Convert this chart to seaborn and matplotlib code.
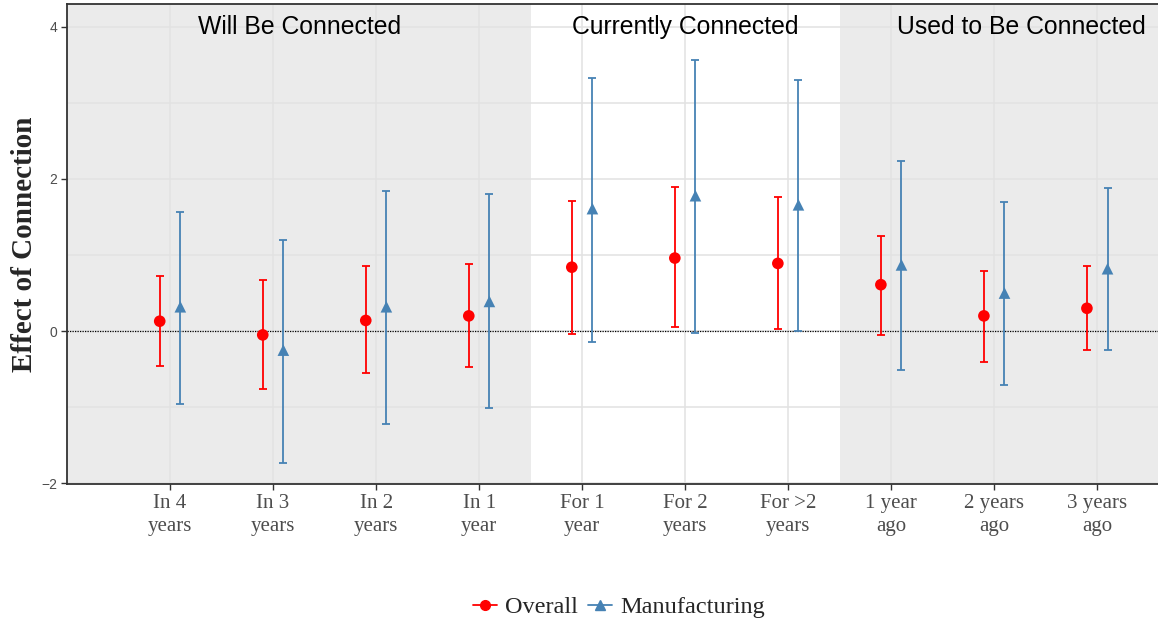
import numpy as np
import pandas as pd
import matplotlib.pyplot as plt
import seaborn as sns
from matplotlib.lines import Line2D

categories = ["In 4\nyears", "In 3\nyears", "In 2\nyears", "In 1\nyear",
              "For 1\nyear", "For 2\nyears", "For >2\nyears",
              "1 year\nago", "2 years\nago", "3 years\nago"]

overall_est = [0.13, -0.05, 0.14, 0.20, 0.84, 0.96, 0.89, 0.61, 0.20, 0.30]
overall_lo = [-0.46, -0.76, -0.55, -0.47, -0.04, 0.05, 0.03, -0.05, -0.41, -0.25]
overall_hi = [0.72, 0.67, 0.86, 0.88, 1.71, 1.89, 1.76, 1.25, 0.79, 0.86]

manuf_est = [0.32, -0.25, 0.32, 0.39, 1.61, 1.78, 1.66, 0.87, 0.50, 0.82]
manuf_lo = [-0.96, -1.74, -1.22, -1.01, -0.14, -0.03, 0.00, -0.51, -0.71, -0.25]
manuf_hi = [1.57, 1.20, 1.84, 1.80, 3.33, 3.57, 3.30, 2.24, 1.70, 1.88]

periods = ["Will Be Connected", "Currently Connected", "Used to Be Connected"]

red = "#FF0000"
blue = "#4682B4"

sns.set_theme(style="white")
plt.rcParams['font.family'] = ['Liberation Serif', 'DejaVu Serif']

pos = np.arange(1, len(categories) + 1)
df = pd.concat([
    pd.DataFrame({"x": pos - 0.1, "est": overall_est, "lo": overall_lo,
                  "hi": overall_hi, "group": "Overall"}),
    pd.DataFrame({"x": pos + 0.1, "est": manuf_est, "lo": manuf_lo,
                  "hi": manuf_hi, "group": "Manufacturing"}),
])

fig = plt.figure(figsize=(11.58, 6.23), dpi=100)
ax = fig.add_axes([67 / 1158, 1 - 484 / 623, 1 - 67 / 1158, 480 / 623])

# shaded periods
ax.axvspan(0, 4.5, color="#EBEBEB", zorder=0, lw=0)
ax.axvspan(7.5, 11, color="#EBEBEB", zorder=0, lw=0)

ax.set_xlim(0, 10.59)
ax.set_ylim(-2.01, 4.3)
ax.set_xticks(pos)
ax.set_xticklabels(categories, fontsize=15, color="#4d4d4d", linespacing=1.3)
ax.set_yticks([-2, 0, 2, 4])
ax.set_yticklabels(["\u22122", "0", "2", "4"], fontsize=10, color="#4d4d4d",
                   family=["Liberation Sans"])
ax.set_yticks([-1, 1, 3], minor=True)
ax.grid(True, which="both", color="#E2E2E2", lw=1.1, zorder=0.5)
ax.set_axisbelow(True)
ax.tick_params(axis="both", length=4, width=1, color="#333333", direction="out",
               bottom=True, left=True, pad=3)
ax.tick_params(axis="y", which="minor", length=0)

ax.axhline(0, color="black", ls=(0, (1, 1)), lw=0.9, zorder=1)

for grp, color, marker in [("Overall", red, "o"), ("Manufacturing", blue, "^")]:
    d = df[df.group == grp]
    ax.errorbar(d.x, d.est, yerr=[d.est - d.lo, d.hi - d.est], fmt="none",
                ecolor=color, elinewidth=1.3, capsize=3, capthick=1.3, zorder=2)

sns.scatterplot(data=df, x="x", y="est", hue="group", style="group",
                palette={"Overall": red, "Manufacturing": blue},
                markers={"Overall": "o", "Manufacturing": "^"},
                s=70, edgecolor="none", legend=False, ax=ax, zorder=3)

for xc, label in zip([2.26, 6.0, 9.26], periods):
    ax.text(xc, 4.0, label, ha="center", va="center", fontsize=17.8,
            family=["Liberation Sans"], color="black")

ax.set_xlabel("")
ax.set_ylabel("Effect of Connection", fontsize=21, fontweight="bold",
              family=["Liberation Serif"], labelpad=2)

for side in ["left", "bottom", "top"]:
    ax.spines[side].set_color("#333333")
    ax.spines[side].set_linewidth(1.3)
ax.spines["right"].set_visible(False)

handles = [Line2D([], [], color=red, marker="o", markersize=7, lw=1.3),
           Line2D([], [], color=blue, marker="^", markersize=7, lw=1.3)]
fig.legend(handles, ["Overall", "Manufacturing"], loc="center",
           bbox_to_anchor=(619 / 1158, 1 - 607 / 623), ncol=2, frameon=False,
           fontsize=17.5, handlelength=1.0, columnspacing=0.4, handletextpad=0.35)

fig.savefig("out.png", dpi=100)
